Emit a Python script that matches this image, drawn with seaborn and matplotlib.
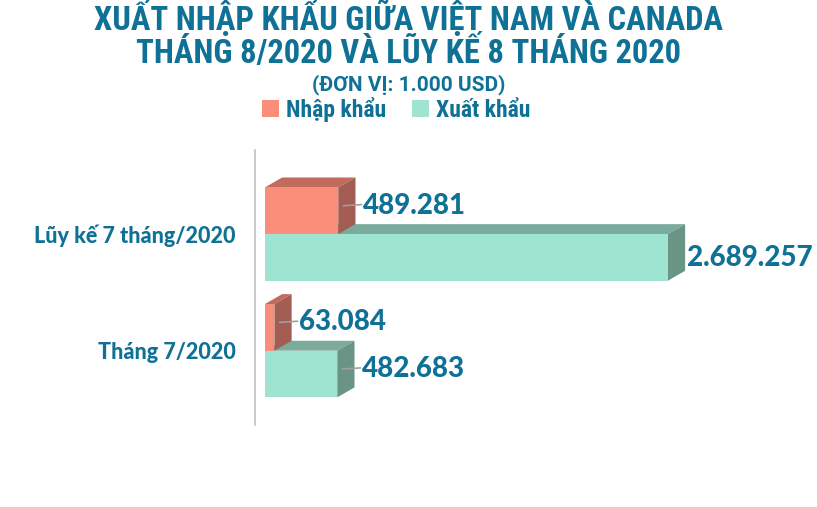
import matplotlib.pyplot as plt
import seaborn as sns
import pandas as pd
from matplotlib.patches import Polygon, Patch

# Dữ liệu (đơn vị: 1.000 USD)
categories = ['Lũy kế 7 tháng/2020', 'Tháng 7/2020']
series = ['Nhập khẩu', 'Xuất khẩu']
nhap_khau = [489281, 63084]
xuat_khau = [2689257, 482683]

front_colors = ['#f98e7a', '#9fe4d1']
top_colors = ['#c26b5d', '#7aab9c']
side_colors = ['#a35d52', '#6a9585']
text_color = '#0f7196'

df = pd.DataFrame({
    'cat': categories * 2,
    'series': [series[0]] * len(categories) + [series[1]] * len(categories),
    'value': nhap_khau + xuat_khau,
})

sns.set_style('white')
narrow = ['Roboto Condensed', 'DejaVu Sans']
plt.rcParams['font.family'] = ['Lato', 'DejaVu Sans']

fig = plt.figure(figsize=(8.17, 5.07), dpi=100)
ax = fig.add_axes([0.312, 0.162, 0.678, 0.542])

sns.barplot(data=df, y='cat', x='value', hue='series', hue_order=series,
            palette=front_colors, orient='h', saturation=1, width=0.8,
            legend=False, linewidth=0, ax=ax)

ax.set_xlim(-67000, 3630000)
ax.set_ylim(1.636, -0.72)

dx = 115000  # chiều sâu giả 3D
dy = 0.085

for i, cont in enumerate(ax.containers):
    for j, bar in enumerate(cont):
        x0, y0 = bar.get_x(), bar.get_y()
        w, h = bar.get_width(), bar.get_height()
        bar.set_edgecolor('none')
        bar.set_zorder(2 + 2 * (1 - i))
        z = 1.5 + 2 * (1 - i)
        top = Polygon([(x0, y0), (x0 + w, y0), (x0 + w + dx, y0 - dy), (x0 + dx, y0 - dy)],
                      closed=True, facecolor=top_colors[i], edgecolor='none', zorder=z)
        side = Polygon([(x0 + w, y0), (x0 + w + dx, y0 - dy), (x0 + w + dx, y0 + h - dy), (x0 + w, y0 + h)],
                       closed=True, facecolor=side_colors[i], edgecolor='none', zorder=z)
        ax.add_patch(top)
        ax.add_patch(side)
        # nhãn giá trị
        label = f'{int(w):,}'.replace(',', '.')
        yc = y0 + h / 2 - dy / 2
        if w > 2000000:
            ax.text(x0 + w + dx + 15000, yc + 0.05, label, color=text_color, fontsize=20,
                    fontweight=900, va='center', ha='left', zorder=10)
        else:
            ax.plot([x0 + w + dx * 0.3, x0 + w + dx + 40000], [yc, yc - 0.01],
                    color='#a0a0a0', lw=1.2, zorder=6)
            ax.text(x0 + w + dx + 50000, yc, label, color=text_color, fontsize=20,
                    fontweight=900, va='center', ha='left', zorder=10)

ax.set_xlabel('')
ax.set_ylabel('')
ax.set_xticks([])
ax.tick_params(axis='y', length=0, pad=14)
for lab in ax.get_yticklabels():
    lab.set_color(text_color)
    lab.set_fontweight(900)
    lab.set_fontsize(15.5)
for s in ['top', 'right', 'bottom']:
    ax.spines[s].set_visible(False)
ax.spines['left'].set_color('#c0c0c0')
ax.spines['left'].set_linewidth(1.2)

# Tiêu đề
fig.text(0.5, 0.876, 'XUẤT NHẬP KHẨU GIỮA VIỆT NAM VÀ CANADA\nTHÁNG 8/2020 VÀ LŨY KẾ 8 THÁNG 2020',
         ha='center', va='baseline', fontsize=23.5, fontweight='bold', color=text_color,
         family=narrow, linespacing=0.95)
fig.text(0.5, 0.822, '(ĐƠN VỊ: 1.000 USD)', ha='center', va='baseline',
         fontsize=15, fontweight='bold', color=text_color, family=['Roboto', 'DejaVu Sans'])

handles = [Patch(facecolor=c, edgecolor='none') for c in front_colors]
leg = fig.legend(handles, series, loc='center', bbox_to_anchor=(0.485, 0.784), ncol=2,
                 frameon=False, handlelength=0.7, handleheight=0.7, handletextpad=0.3,
                 columnspacing=1.1, prop={'family': narrow, 'weight': 'bold', 'size': 17})
for t in leg.get_texts():
    t.set_color(text_color)

fig.savefig('out.png', dpi=100)
